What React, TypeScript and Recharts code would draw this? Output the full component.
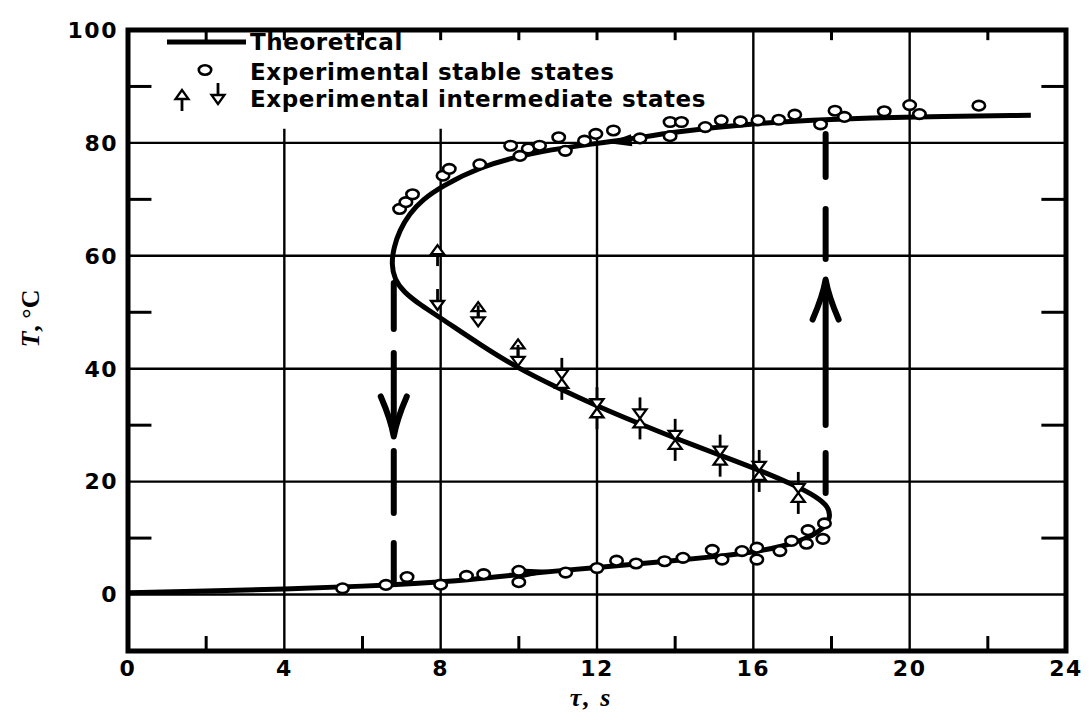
import React from 'react';
import { ComposedChart, Line, Scatter, XAxis, YAxis, ReferenceLine, ReferenceArea, Legend } from 'recharts';

// axis ticks / grid positions
const xTicks = [0, 4, 8, 12, 16, 20, 24];
const yTicks = [0, 20, 40, 60, 80, 100];
const gridY = [0, 20, 40, 60, 80];
const fullGridX = [16, 20];
const shortGridX = [4, 8, 12];
const bottomMinorX = [2, 6, 10, 14, 18, 22];
const topMinorX = [2, 4, 6, 8, 10, 12, 14, 18, 22];
const sideMinorY = [10, 30, 50, 70, 90];

// theoretical S-curve, [tau, T] in drawing order
const theoretical = [
  [0, 0.3], [2, 0.6], [4, 0.95], [6, 1.45], [8, 2.2], [9, 2.85], [10, 3.55], [11, 4.2],
  [12, 4.8], [13, 5.4], [14, 6.0], [15, 6.7], [16, 7.5], [16.8, 8.6], [17.4, 10.0],
  [17.8, 11.7], [17.98, 13.6], [17.92, 15.6], [17.6, 17.4], [17.05, 19.4], [16.1, 22.2],
  [15.1, 24.8], [14.0, 27.7], [13.0, 30.5], [12.0, 33.4], [11.0, 36.6], [10.0, 40.0],
  [9.0, 44.3], [8.0, 49.0], [7.5, 51.2], [7.05, 53.6], [6.82, 55.8], [6.74, 58.5],
  [6.8, 61.5], [6.95, 64.5], [7.2, 67.5], [7.55, 70.0], [8.0, 72.2], [9.0, 75.8],
  [10.3, 78.2], [11.5, 79.5], [12.6, 80.4], [14.0, 82.0], [16.0, 83.5], [18.0, 84.2],
  [20.0, 84.6], [23.1, 84.9],
];

// experimental stable states
const stableStates = [
  [5.49, 1.1], [6.6, 1.7], [7.14, 3.1], [8.0, 1.75], [8.66, 3.3], [9.1, 3.6], [10.0, 4.2],
  [10.0, 2.2], [11.2, 3.9], [12.0, 4.7], [12.5, 6.0], [13.0, 5.5], [13.73, 5.9], [14.2, 6.5],
  [14.95, 7.9], [15.2, 6.2], [15.71, 7.7], [16.09, 8.3], [16.09, 6.2], [16.68, 7.7],
  [16.98, 9.5], [17.36, 9.0], [17.4, 11.4], [17.78, 9.85], [17.82, 12.6],
  [6.95, 68.3], [7.11, 69.5], [7.28, 70.9], [8.06, 74.2], [8.22, 75.4], [9.0, 76.2],
  [9.79, 79.5], [10.03, 77.7], [10.24, 79.0], [10.53, 79.5], [11.02, 81.0], [11.19, 78.6],
  [11.68, 80.4], [11.97, 81.6], [12.42, 82.2], [13.1, 80.8], [13.87, 83.7], [14.16, 83.7],
  [13.87, 81.2], [14.77, 82.8], [15.18, 84.0], [15.67, 83.8], [16.12, 84.0], [16.65, 84.1],
  [17.06, 85.0], [17.72, 83.3], [18.09, 85.7], [18.33, 84.6], [19.35, 85.6], [20.0, 86.7],
  [20.25, 85.1], [21.77, 86.6],
];

// experimental intermediate states (arrow tip positions)
const risingStates = [
  [7.92, 61.9], [8.96, 51.8], [9.98, 45.2], [11.1, 38.2], [12.0, 33.0], [13.1, 31.2],
  [14.0, 27.4], [15.15, 24.6], [16.15, 21.9], [17.15, 18.0],
];
const fallingStates = [
  [7.92, 50.4], [8.96, 47.5], [9.98, 40.5], [11.1, 38.2], [12.0, 33.0], [13.1, 31.2],
  [14.0, 27.4], [15.15, 24.6], [16.15, 21.9], [17.15, 18.0],
];

// jump paths and arrows
const jumpDown = [[6.8, 55.2], [6.8, 1.9]];
const jumpUp = [[17.85, 18.0], [17.85, 81.6]];
const jumpDownHead = [[6.8, 28.0]];
const jumpUpHead = [[17.85, 55.8]];
const flowRightHead = [[11.0, 4.3]];
const flowLeftHead = [[12.25, 80.0]];

const pts = (arr: number[][]) => arr.map(([tau, T]) => ({ tau, T }));

const INK = '#000';
const tickFont = { fontFamily: 'DejaVu Sans', fontWeight: 'bold', fontSize: 22, fill: INK, letterSpacing: 1.5 };

const Ring = ({ cx, cy }: any) => (
  <ellipse cx={cx} cy={cy} rx={6.2} ry={4.8} fill="#fff" stroke={INK} strokeWidth={2.6} />
);

const RiseMark = ({ cx, cy }: any) => (
  <g>
    <line x1={cx} y1={cy + 8} x2={cx} y2={cy + 21} stroke={INK} strokeWidth={2.8} />
    <path d={`M${cx},${cy} L${cx - 6.5},${cy + 9} L${cx + 6.5},${cy + 9} Z`} fill="#fff" stroke={INK} strokeWidth={2.3} />
  </g>
);

const FallMark = ({ cx, cy }: any) => (
  <g>
    <line x1={cx} y1={cy - 8} x2={cx} y2={cy - 21} stroke={INK} strokeWidth={2.8} />
    <path d={`M${cx},${cy} L${cx - 6.5},${cy - 9} L${cx + 6.5},${cy - 9} Z`} fill="#fff" stroke={INK} strokeWidth={2.3} />
  </g>
);

const DownHead = ({ cx, cy }: any) => (
  <path
    d={`M${cx - 13},${cy - 40} Q${cx - 3},${cy - 17} ${cx},${cy} Q${cx + 3},${cy - 17} ${cx + 13},${cy - 40}`}
    fill="none" stroke={INK} strokeWidth={6} strokeLinecap="round" strokeLinejoin="round"
  />
);

const UpHead = ({ cx, cy }: any) => (
  <path
    d={`M${cx - 13},${cy + 40} Q${cx - 3},${cy + 17} ${cx},${cy} Q${cx + 3},${cy + 17} ${cx + 13},${cy + 40}`}
    fill="none" stroke={INK} strokeWidth={6} strokeLinecap="round" strokeLinejoin="round"
  />
);

const RightWedge = ({ cx, cy }: any) => (
  <path d={`M${cx},${cy} L${cx - 38},${cy - 5} L${cx - 38},${cy + 5} Z`} fill={INK} transform={`rotate(-5 ${cx} ${cy})`} />
);

const LeftWedge = ({ cx, cy }: any) => (
  <path d={`M${cx},${cy} L${cx + 25},${cy - 6} L${cx + 25},${cy + 6} Z`} fill={INK} transform={`rotate(-6 ${cx} ${cy})`} />
);

const legendFont = { fontFamily: 'DejaVu Sans', fontWeight: 'bold', fontSize: 23, letterSpacing: 0.6 } as const;

const LegendBox = () => (
  <svg width={860} height={120} style={{ display: 'block' }}>
    <line x1={159} y1={34} x2={238} y2={34} stroke={INK} strokeWidth={5} />
    <text x={242} y={42} {...legendFont}>Theoretical</text>
    <Ring cx={197} cy={62} />
    <text x={242} y={72} {...legendFont}>Experimental stable states</text>
    <RiseMark cx={174} cy={82} />
    <FallMark cx={210} cy={96} />
    <text x={242} y={99} {...legendFont}>Experimental intermediate states</text>
  </svg>
);

const YTitle = ({ viewBox }: any) => {
  const x = viewBox.x + 31;
  const y = viewBox.y + viewBox.height / 2 - 22;
  return (
    <text x={x} y={y} transform={`rotate(-90 ${x} ${y})`} textAnchor="middle"
      fontFamily="Liberation Serif" fontWeight="bold" fontSize={26} fill={INK}>
      <tspan fontStyle="italic">T</tspan>, °C
    </text>
  );
};

const XTitle = ({ viewBox }: any) => (
  <text x={viewBox.x + viewBox.width / 2 - 6} y={698} textAnchor="middle"
    fontFamily="Liberation Serif" fontWeight="bold" fontStyle="italic" fontSize={26} letterSpacing={2} fill={INK}>
    τ, s
  </text>
);

const TICK_X = 0.6;   // side tick length, tau units
const TICK_R = 0.63;
const TICK_B = 2.65;  // bottom tick length, T units
const TICK_T = 1.8;

export default function App() {
  return (
    <ComposedChart width={1076} height={705} margin={{ top: 22, right: 18, bottom: 0, left: 0 }}>
      <XAxis type="number" dataKey="tau" domain={[0, 24]} ticks={xTicks} allowDataOverflow
        height={62} tickSize={0} tickMargin={9} axisLine={false} tickLine={false} tick={tickFont}
        label={{ content: <XTitle /> }} />
      <YAxis type="number" dataKey="T" domain={[-10, 100]} ticks={yTicks} allowDataOverflow
        width={120} tickSize={0} tickMargin={10} axisLine={false} tickLine={false} tick={tickFont}
        label={{ content: <YTitle /> }} />

      {gridY.map((v) => <ReferenceLine key={'gy' + v} y={v} stroke={INK} strokeWidth={2.4} />)}
      {fullGridX.map((v) => <ReferenceLine key={'gx' + v} x={v} stroke={INK} strokeWidth={2.4} />)}
      {shortGridX.map((v) => (
        <ReferenceLine key={'sx' + v} segment={[{ x: v, y: -10 }, { x: v, y: 82.5 }]} stroke={INK} strokeWidth={2.4} />
      ))}
      {bottomMinorX.map((v) => (
        <ReferenceLine key={'bt' + v} segment={[{ x: v, y: -10 }, { x: v, y: -10 + TICK_B }]} stroke={INK} strokeWidth={3} />
      ))}
      {topMinorX.map((v) => (
        <ReferenceLine key={'tt' + v} segment={[{ x: v, y: 100 }, { x: v, y: 100 - TICK_T }]} stroke={INK} strokeWidth={3} />
      ))}
      {sideMinorY.map((v) => (
        <ReferenceLine key={'lt' + v} segment={[{ x: 0, y: v }, { x: TICK_X, y: v }]} stroke={INK} strokeWidth={3} />
      ))}
      {sideMinorY.map((v) => (
        <ReferenceLine key={'rt' + v} segment={[{ x: 24, y: v }, { x: 24 - TICK_R, y: v }]} stroke={INK} strokeWidth={3} />
      ))}
      <ReferenceArea x1={0} x2={24} y1={-10} y2={100} fill="#fff" fillOpacity={0} stroke={INK} strokeWidth={5} />

      <Line data={pts(theoretical)} dataKey="T" type="basis" stroke={INK} strokeWidth={5} dot={false}
        activeDot={false} isAnimationActive={false} />
      <Line data={pts(jumpDown)} dataKey="T" type="linear" stroke={INK} strokeWidth={6} strokeLinecap="round"
        strokeDasharray="46 24 76 22 62 30" dot={false} activeDot={false} isAnimationActive={false} />
      <Line data={pts(jumpUp)} dataKey="T" type="linear" stroke={INK} strokeWidth={6} strokeLinecap="round"
        strokeDasharray="40 28 142 24 50 32 56" dot={false} activeDot={false} isAnimationActive={false} />

      <Scatter data={pts(jumpDownHead)} dataKey="T" shape={DownHead} isAnimationActive={false} />
      <Scatter data={pts(jumpUpHead)} dataKey="T" shape={UpHead} isAnimationActive={false} />
      <Scatter data={pts(flowRightHead)} dataKey="T" shape={RightWedge} isAnimationActive={false} />
      <Scatter data={pts(flowLeftHead)} dataKey="T" shape={LeftWedge} isAnimationActive={false} />
      <Scatter data={pts(stableStates)} dataKey="T" shape={Ring} isAnimationActive={false} />
      <Scatter data={pts(risingStates)} dataKey="T" shape={RiseMark} isAnimationActive={false} />
      <Scatter data={pts(fallingStates)} dataKey="T" shape={FallMark} isAnimationActive={false} />

      <Legend layout="horizontal" verticalAlign="middle" align="center" content={<LegendBox />}
        wrapperStyle={{ left: 0, top: 0, width: 860, height: 120 }} />
    </ComposedChart>
  );
}
